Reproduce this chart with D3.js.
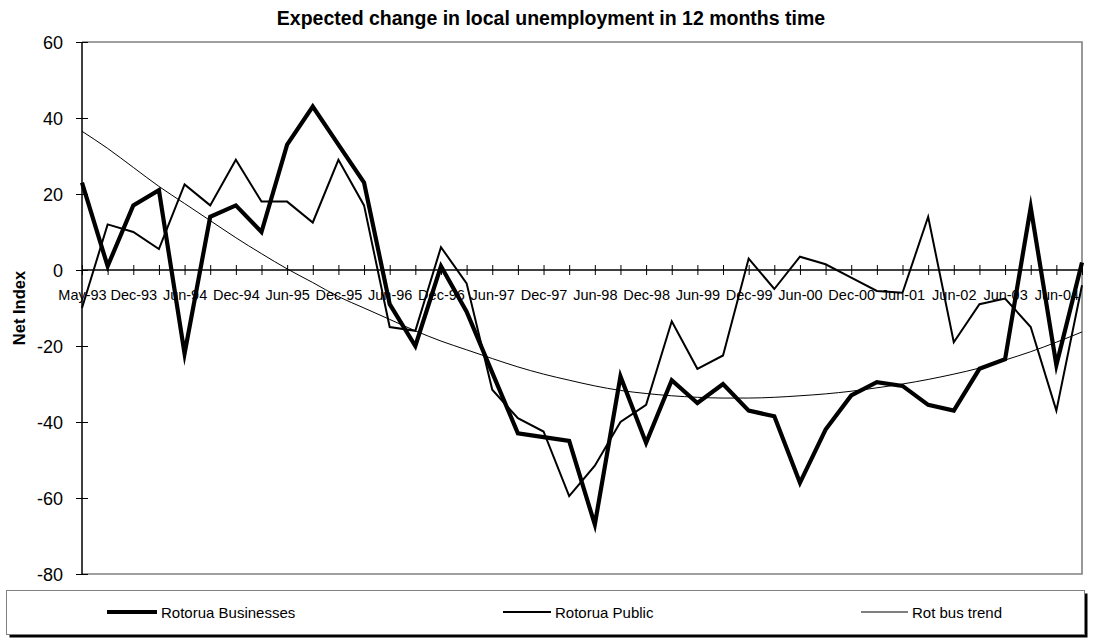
<!DOCTYPE html>
<html>
<head>
<meta charset="utf-8">
<script src="https://cdn.jsdelivr.net/npm/d3@7/dist/d3.min.js"></script>
<style>
  html, body { margin: 0; padding: 0; background: #fff; }
  svg { display: block; font-family: "Liberation Sans", Arial, sans-serif; }
</style>
</head>
<body>
<svg id="chart" width="1104" height="638"></svg>
<script>
// Survey dates (quarterly to mid-2001, then half-yearly)
const categories = [
  "May-93","Sep-93","Dec-93","Mar-94","Jun-94","Sep-94","Dec-94","Mar-95",
  "Jun-95","Sep-95","Dec-95","Mar-96","Jun-96","Sep-96","Dec-96","Mar-97",
  "Jun-97","Sep-97","Dec-97","Mar-98","Jun-98","Sep-98","Dec-98","Mar-99",
  "Jun-99","Sep-99","Dec-99","Mar-00","Jun-00","Sep-00","Dec-00","Mar-01",
  "Jun-01","Dec-01","Jun-02","Dec-02","Jun-03","Dec-03","Jun-04","Dec-04"
];

// Net index: Rotorua businesses
const businesses = [
  23, 1, 17, 21, -22, 14, 17, 10,
  33, 43, 33, 23, -9, -20, 1, -11,
  -27, -43, -44, -45, -67, -28, -45.5, -29,
  -35, -30, -37, -38.5, -56, -42, -33, -29.5,
  -30.5, -35.5, -37, -26, -23.5, 16.5, -25, 2
];

// Net index: Rotorua public
const publicIdx = [
  -10, 12, 10, 5.5, 22.5, 17, 29, 18,
  18, 12.5, 29, 17, -15, -16, 6, -3.5,
  -31.5, -39, -42.5, -59.5, -51.5, -40, -35.5, -13.5,
  -26, -22.5, 3, -5, 3.5, 1.5, -2, -5.5,
  -6, 14, -19, -9, -7.5, -15, -37, -4
];

// Trend of the business index
const busTrend = [
  36.5, 32, 27, 22, 17.5, 13, 8.5, 4.3,
  0.3, -3.3, -7, -10, -13, -16, -18.7, -21,
  -23.3, -25.5, -27.4, -29, -30.5, -31.7, -32.5, -33.1,
  -33.5, -33.7, -33.7, -33.5, -33.1, -32.6, -31.9, -31,
  -30, -28.8, -27.4, -25.8, -23.7, -21.5, -19, -16.3
];

const yTicks = [-80, -60, -40, -20, 0, 20, 40, 60];

const titleText = "Expected change in local unemployment in 12 months time";
const yTitle = "Net Index";
const seriesNames = ["Rotorua Businesses", "Rotorua Public", "Rot bus trend"];

const svg = d3.select("#chart");
const plot = { left: 82, right: 1082, top: 42, bottom: 574 };

const x = d3.scalePoint().domain(categories).range([plot.left, plot.right]).padding(0);
const y = d3.scaleLinear().domain([-80, 60]).range([plot.bottom, plot.top]);

// Plot area frame (grey top, right and bottom edges)
svg.append("path")
  .attr("d", `M${plot.left},${plot.top}H${plot.right}V${plot.bottom}H${plot.left}`)
  .attr("fill", "none")
  .attr("stroke", "#808080")
  .attr("stroke-width", 1.6);

// Title
svg.append("text")
  .attr("x", 551).attr("y", 25)
  .attr("text-anchor", "middle")
  .attr("font-size", 19.5)
  .attr("font-weight", "bold")
  .text(titleText);

// Y axis (plain hyphen for negative labels)
const yAxis = svg.append("g")
  .attr("transform", `translate(${plot.left},0)`)
  .call(d3.axisLeft(y).tickValues(yTicks).tickSize(6).tickPadding(13).tickFormat(d => String(d)));
yAxis.select(".domain").attr("stroke", "#000").attr("stroke-width", 1.5)
  .attr("d", `M0,${plot.top}V${plot.bottom}`);
yAxis.selectAll(".tick line").attr("x1", -6).attr("x2", 6).attr("stroke", "#000");
yAxis.selectAll(".tick text")
  .attr("font-size", 18).attr("fill", "#000")
  .attr("font-family", "'Liberation Sans', Arial, sans-serif")
  .attr("dy", "0.35em");

svg.append("text")
  .attr("transform", `translate(25,${(plot.top + plot.bottom) / 2}) rotate(-90)`)
  .attr("text-anchor", "middle")
  .attr("font-size", 16.5)
  .attr("font-weight", "bold")
  .text(yTitle);

// X axis along the zero line; every second date is labelled
const xAxis = svg.append("g")
  .attr("transform", `translate(0,${y(0)})`)
  .call(d3.axisBottom(x).tickSize(5).tickFormat((d, i) => (i % 2 === 0 ? d : "")));
xAxis.select(".domain").attr("stroke", "#000").attr("stroke-width", 1.3)
  .attr("d", `M${plot.left},0H${plot.right}`);
xAxis.selectAll(".tick line").attr("y1", -5).attr("y2", 5).attr("stroke", "#000");
xAxis.selectAll(".tick text")
  .attr("font-size", 14.5).attr("fill", "#000")
  .attr("font-family", "'Liberation Sans', Arial, sans-serif")
  .attr("y", 30).attr("dy", 0);

// Series lines
const straight = d3.line().x((d, i) => x(categories[i])).y(d => y(d));
const smooth = d3.line().x((d, i) => x(categories[i])).y(d => y(d)).curve(d3.curveMonotoneX);

const series = [
  { name: seriesNames[2], values: busTrend, width: 1, gen: smooth },
  { name: seriesNames[1], values: publicIdx, width: 2, gen: straight },
  { name: seriesNames[0], values: businesses, width: 4.2, gen: straight }
];

svg.append("g").selectAll("path")
  .data(series)
  .join("path")
  .attr("d", d => d.gen(d.values))
  .attr("fill", "none")
  .attr("stroke", "#000")
  .attr("stroke-width", d => d.width)
  .attr("stroke-linejoin", "miter")
  .attr("stroke-miterlimit", 10);

// Legend box with drop shadow
const lg = svg.append("g");
lg.append("rect").attr("x", 9.5).attr("y", 593.5).attr("width", 1078).attr("height", 44).attr("fill", "#000");
lg.append("rect").attr("x", 6.5).attr("y", 590.5).attr("width", 1078).attr("height", 44)
  .attr("fill", "#fff").attr("stroke", "#808080").attr("stroke-width", 1);

const legendItems = [
  { name: seriesNames[0], width: 4.2, x0: 107, x1: 157, tx: 161 },
  { name: seriesNames[1], width: 2, x0: 503, x1: 551, tx: 555 },
  { name: seriesNames[2], width: 1, x0: 861, x1: 908, tx: 912 }
];
const li = lg.selectAll("g.item").data(legendItems).join("g").attr("class", "item");
li.append("line")
  .attr("x1", d => d.x0).attr("x2", d => d.x1)
  .attr("y1", 612).attr("y2", 612)
  .attr("stroke", "#000").attr("stroke-width", d => d.width);
li.append("text")
  .attr("x", d => d.tx).attr("y", 617.5)
  .attr("font-size", 15)
  .text(d => d.name);
</script>
</body>
</html>
